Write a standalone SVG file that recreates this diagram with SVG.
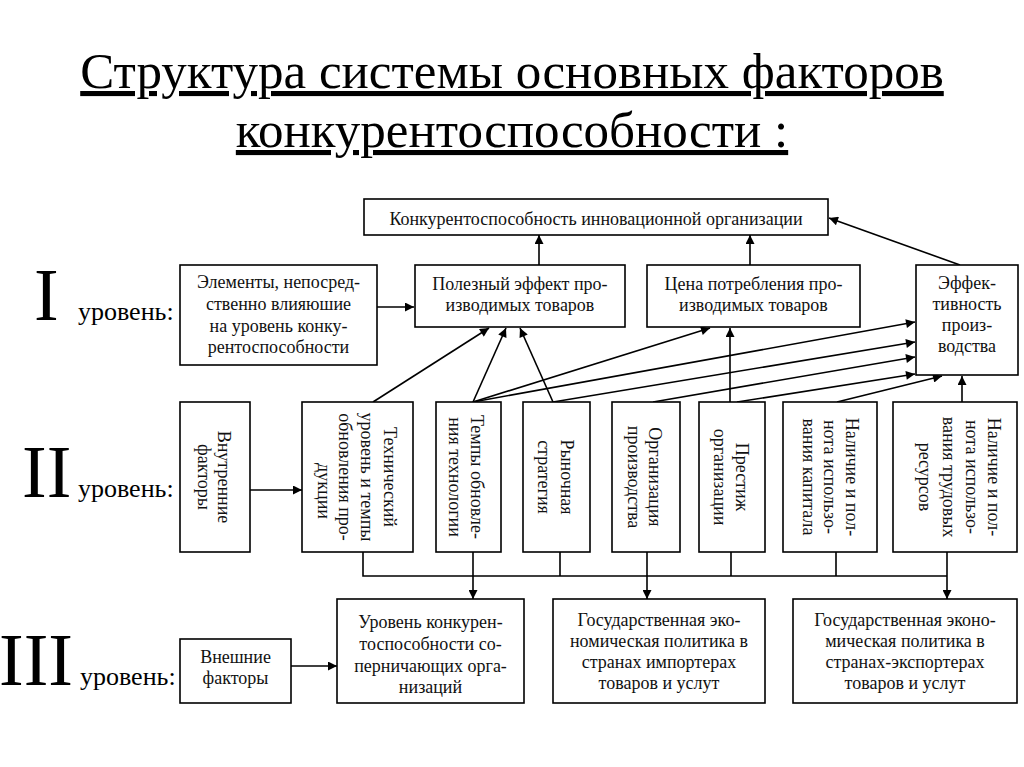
<svg xmlns="http://www.w3.org/2000/svg" width="1024" height="767" viewBox="0 0 1024 767">
<style>
.bx{fill:#fff;stroke:#000;stroke-width:1.6}
.t{font-family:"Liberation Serif","Times New Roman",serif;font-size:18px;fill:#111;text-anchor:middle}
.ttl{font-family:"Liberation Serif","Times New Roman",serif;font-size:51px;fill:#000;text-anchor:middle;text-decoration:underline}
.rn{font-family:"Liberation Serif","Times New Roman",serif;font-size:74px;fill:#000}
.lv{font-family:"Liberation Serif","Times New Roman",serif;font-size:26px;fill:#000}
.ln{fill:none;stroke:#000;stroke-width:1.6}
.ar{fill:none;stroke:#000;stroke-width:1.6;marker-end:url(#ah)}
</style>
<defs>
<marker id="ah" viewBox="0 0 10 10" refX="10" refY="5" markerWidth="11" markerHeight="9" markerUnits="userSpaceOnUse" orient="auto"><path d="M0,0 L10,5 L0,10 z" fill="#000"/></marker>
</defs>
<rect width="1024" height="767" fill="#fff"/>
<g id="title">
<text class="ttl" x="512" y="88">Структура системы основных факторов</text>
<text class="ttl" x="512" y="147">конкурентоспособности :</text>
</g>
<g id="levels">
<text class="rn" x="34" y="320">I</text><text class="lv" x="78" y="320">уровень:</text>
<text class="rn" x="22" y="497">II</text><text class="lv" x="78" y="497">уровень:</text>
<text class="rn" x="-1" y="685">III</text><text class="lv" x="80" y="685">уровень:</text>
</g>
<g id="connectors">
<path class="ar" d="M539,265 V235"/>
<path class="ar" d="M750,265 V235"/>
<path class="ar" d="M960,265 L829,218"/>
<path class="ar" d="M377,307 H414"/>
<path class="ar" d="M373,402 L489,328"/>
<path class="ar" d="M473,402 L506,328"/>
<path class="ar" d="M553,402 L520,328"/>
<path class="ar" d="M473,402 L710,328"/>
<path class="ar" d="M473,402 L915,322"/>
<path class="ar" d="M553,402 L915,342"/>
<path class="ar" d="M653,402 L915,357"/>
<path class="ar" d="M737,402 L915,374"/>
<path class="ar" d="M837,402 L942,376"/>
<path class="ar" d="M730,402 V328"/>
<path class="ar" d="M962,402 V376"/>
<path class="ar" d="M250,490 H302"/>
<path class="ln" d="M363,552 V576 H947 M560,552 V576 M731,552 V576 M836,552 V576"/>
<path class="ar" d="M473,552 V599"/>
<path class="ar" d="M647,552 V599"/>
<path class="ar" d="M947,552 V599"/>
<path class="ar" d="M291,666 H337"/>
</g>
<g id="n-top"><rect class="bx" x="364" y="199" width="464" height="36"/><text class="t" x="596" y="225">Конкурентоспособность инновационной организации</text></g>
<g id="n-elements"><rect class="bx" x="180" y="265" width="197" height="100"/>
<text class="t" x="278.5" y="288">Элементы, непосред-</text><text class="t" x="278.5" y="310">ственно влияюшие</text><text class="t" x="278.5" y="332">на уровень конку-</text><text class="t" x="278.5" y="353">рентоспособности</text></g>
<g id="n-effect"><rect class="bx" x="415" y="265" width="210" height="62"/>
<text class="t" x="520" y="290">Полезный эффект про-</text><text class="t" x="520" y="311">изводимых товаров</text></g>
<g id="n-price"><rect class="bx" x="647" y="265" width="213" height="62"/>
<text class="t" x="753.5" y="290">Цена потребления про-</text><text class="t" x="753.5" y="311">изводимых товаров</text></g>
<g id="n-eff"><rect class="bx" x="916" y="265" width="102" height="110"/>
<text class="t" x="967" y="289">Эффек-</text><text class="t" x="967" y="310">тивность</text><text class="t" x="967" y="331">произ-</text><text class="t" x="967" y="352">водства</text></g>
<g id="n-internal"><rect class="bx" x="180" y="402" width="70" height="150"/>
<text class="t" transform="translate(218,477) rotate(90)">Внутренние</text><text class="t" transform="translate(198,477) rotate(90)">факторы</text></g>
<g id="n-tech"><rect class="bx" x="302" y="402" width="111" height="150"/>
<text class="t" transform="translate(384,477) rotate(90)">Технический</text><text class="t" transform="translate(361,477) rotate(90)">уровень и темпы</text><text class="t" transform="translate(339,477) rotate(90)">обновления про-</text><text class="t" transform="translate(318,491) rotate(90)">дукции</text></g>
<g id="n-tempo"><rect class="bx" x="436" y="402" width="65" height="150"/>
<text class="t" transform="translate(471,477) rotate(90)">Темпы обновле-</text><text class="t" transform="translate(449,477) rotate(90)">ния технологии</text></g>
<g id="n-market"><rect class="bx" x="523" y="402" width="67" height="150"/>
<text class="t" transform="translate(561,477) rotate(90)">Рыночная</text><text class="t" transform="translate(538,477) rotate(90)">стратегия</text></g>
<g id="n-org"><rect class="bx" x="612" y="402" width="68" height="150"/>
<text class="t" transform="translate(649,477) rotate(90)">Организация</text><text class="t" transform="translate(628,477) rotate(90)">производства</text></g>
<g id="n-prestige"><rect class="bx" x="699" y="402" width="66" height="150"/>
<text class="t" transform="translate(736,477) rotate(90)">Престиж</text><text class="t" transform="translate(714,477) rotate(90)">организации</text></g>
<g id="n-capital"><rect class="bx" x="783" y="402" width="94" height="150"/>
<text class="t" transform="translate(846,477) rotate(90)">Наличие и пол-</text><text class="t" transform="translate(824,477) rotate(90)">нота использо-</text><text class="t" transform="translate(803,477) rotate(90)">вания капитала</text></g>
<g id="n-labor"><rect class="bx" x="893" y="402" width="124" height="150"/>
<text class="t" transform="translate(988,477) rotate(90)">Наличие и пол-</text><text class="t" transform="translate(966,477) rotate(90)">нота использо-</text><text class="t" transform="translate(943,477) rotate(90)">вания трудовых</text><text class="t" transform="translate(919,477) rotate(90)">ресурсов</text></g>
<g id="n-external"><rect class="bx" x="180" y="639" width="111" height="64"/>
<text class="t" x="235.5" y="663">Внешние</text><text class="t" x="235.5" y="684">факторы</text></g>
<g id="n-rivals"><rect class="bx" x="337" y="599" width="187" height="104"/>
<text class="t" x="430.5" y="628">Уровень конкурен-</text><text class="t" x="430.5" y="650">тоспособности со-</text><text class="t" x="430.5" y="672">перничающих орга-</text><text class="t" x="430.5" y="693">низаций</text></g>
<g id="n-import"><rect class="bx" x="553" y="599" width="212" height="104"/>
<text class="t" x="659" y="626">Государственная эко-</text><text class="t" x="659" y="647">номическая политика в</text><text class="t" x="659" y="668">странах импортерах</text><text class="t" x="659" y="689">товаров и услут</text></g>
<g id="n-export"><rect class="bx" x="793" y="599" width="224" height="104"/>
<text class="t" x="905" y="626">Государственная эконо-</text><text class="t" x="905" y="647">мическая политика в</text><text class="t" x="905" y="668">странах-экспортерах</text><text class="t" x="905" y="689">товаров и услут</text></g>
</svg>
